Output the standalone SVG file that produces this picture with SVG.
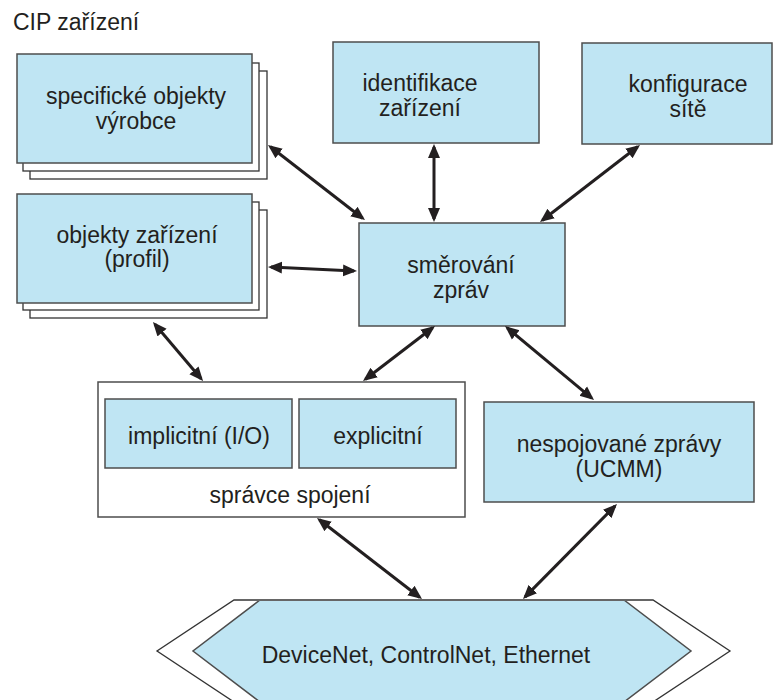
<svg xmlns="http://www.w3.org/2000/svg" width="774" height="700" viewBox="0 0 774 700">
<style>
.bx{fill:#bfe5f3;stroke:#4d4d4d;stroke-width:1.5}
.bk{fill:#fff;stroke:#333;stroke-width:1.3}
.t{font-family:"Liberation Sans",Arial,sans-serif;font-size:23px;fill:#231f20;text-anchor:middle}
.c{stroke:#231f20;stroke-width:3;fill:none;marker-start:url(#ah);marker-end:url(#ah)}
</style>
<defs>
<marker id="ah" markerUnits="userSpaceOnUse" markerWidth="15" markerHeight="14" viewBox="0 0 15 14" refX="11" refY="7" orient="auto-start-reverse">
<path d="M0,1 L14,7 L0,13 z" fill="#231f20"/>
</marker>
</defs>
<rect width="774" height="700" fill="#fff"/>
<text x="13" y="30" style="font-family:'Liberation Sans',Arial,sans-serif;font-size:23px;fill:#231f20">CIP zařízení</text>

<g id="network">
<polygon points="234,600 653,600 730,651 653,702 234,702 157,651" fill="#fff" stroke="#333" stroke-width="1.3"/>
<polygon points="260,600 624,600 691,651 624,702 260,702 193,651" fill="#bfe5f3" stroke="#4d4d4d" stroke-width="1.5"/>
<line x1="234" y1="600" x2="653" y2="600" stroke="#666" stroke-width="2"/>
<text class="t" x="426" y="663">DeviceNet, ControlNet, Ethernet</text>
</g>

<g id="specificke">
<rect class="bk" x="30" y="71" width="237" height="108"/>
<rect class="bk" x="23" y="63" width="236" height="108"/>
<rect class="bx" x="17" y="54" width="235" height="109"/>
<text class="t" x="136" y="104">specifické objekty</text>
<text class="t" x="136" y="129">výrobce</text>
</g>

<g id="objekty">
<rect class="bk" x="30" y="210" width="237" height="108"/>
<rect class="bk" x="23" y="202" width="236" height="108"/>
<rect class="bx" x="17" y="194" width="235" height="109"/>
<text class="t" x="137" y="243">objekty zařízení</text>
<text class="t" x="137" y="267">(profil)</text>
</g>

<g id="identifikace">
<rect class="bx" x="333" y="42" width="206" height="101"/>
<text class="t" x="420" y="91">identifikace</text>
<text class="t" x="420" y="116">zařízení</text>
</g>

<g id="konfigurace">
<rect class="bx" x="582" y="43" width="190" height="101"/>
<text class="t" x="688" y="92">konfigurace</text>
<text class="t" x="688" y="117">sítě</text>
</g>

<g id="smerovani">
<rect class="bx" x="359" y="223" width="206" height="103"/>
<text class="t" x="461" y="273">směrování</text>
<text class="t" x="461" y="298">zpráv</text>
</g>

<g id="spravce">
<rect x="98" y="382" width="367" height="135" fill="#fff" stroke="#4d4d4d" stroke-width="1.5"/>
<rect class="bx" x="105" y="399" width="187" height="69"/>
<rect class="bx" x="299" y="399" width="157" height="69"/>
<text class="t" x="199" y="444">implicitní (I/O)</text>
<text class="t" x="378" y="444">explicitní</text>
<text class="t" x="290" y="503">správce spojení</text>
</g>

<g id="nespojovane">
<rect class="bx" x="484" y="402" width="270" height="100"/>
<text class="t" x="619" y="452">nespojované zprávy</text>
<text class="t" x="619" y="477">(UCMM)</text>
</g>

<g id="connectors">
<line class="c" x1="270.4" y1="146.8" x2="362.6" y2="218.2"/>
<line class="c" x1="271" y1="267.1" x2="354" y2="270.9"/>
<line class="c" x1="434" y1="147" x2="434" y2="219"/>
<line class="c" x1="637.6" y1="146.8" x2="542.4" y2="220.2"/>
<line class="c" x1="154.9" y1="324.3" x2="201.1" y2="378.7"/>
<line class="c" x1="432.6" y1="327.8" x2="365.4" y2="379.2"/>
<line class="c" x1="507.3" y1="327.9" x2="591.7" y2="398.1"/>
<line class="c" x1="319.4" y1="519.8" x2="419.6" y2="597.2"/>
<line class="c" x1="614.9" y1="506.1" x2="525.1" y2="596.9"/>
</g>
</svg>
